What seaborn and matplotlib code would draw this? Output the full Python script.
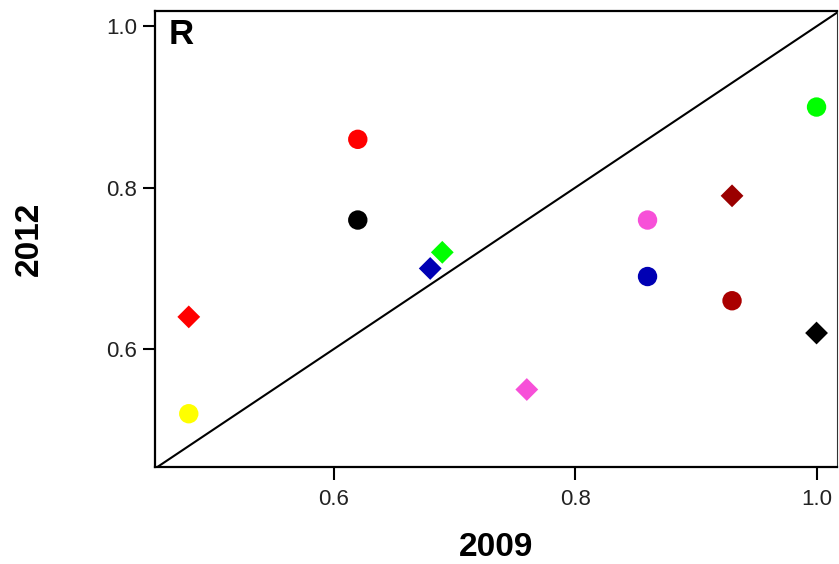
import pandas as pd
import matplotlib
matplotlib.use('Agg')
import matplotlib.pyplot as plt
import seaborn as sns

# values
circle_x = [0.48, 0.62, 0.62, 0.86, 0.86, 0.93, 1.00]
circle_y = [0.52, 0.86, 0.76, 0.76, 0.69, 0.66, 0.90]
circle_col = ['#ffff00', '#ff0000', '#000000', '#f750d8', '#0000b4', '#aa0000', '#00ff00']

diamond_x = [0.48, 0.68, 0.69, 0.76, 0.93, 1.00]
diamond_y = [0.64, 0.70, 0.72, 0.55, 0.79, 0.62]
diamond_col = ['#ff0000', '#0000b4', '#00ff00', '#f750d8', '#9a0000', '#000000']

ticks = [0.6, 0.8, 1.0]
tick_labels = ['0.6', '0.8', '1.0']

sns.set_style('white')
plt.rcParams['font.family'] = ['Liberation Sans', 'DejaVu Sans']
plt.rcParams['text.color'] = 'black'
plt.rcParams['axes.labelcolor'] = 'black'
plt.rcParams['xtick.color'] = 'black'
plt.rcParams['ytick.color'] = 'black'

df_c = pd.DataFrame({'x': circle_x, 'y': circle_y, 'c': circle_col})
df_d = pd.DataFrame({'x': diamond_x, 'y': diamond_y, 'c': diamond_col})

fig = plt.figure(figsize=(8.39, 5.64), dpi=100)
ax = fig.add_axes([0.1847, 0.172, 0.813, 0.8085])

# diagonal y = x
ax.plot([0.4, 1.1], [0.4, 1.1], color='black', lw=1.5, zorder=1)

sns.scatterplot(data=df_c, x='x', y='y', hue='c', palette={c: c for c in circle_col},
                marker='o', s=195, linewidth=0, legend=False, ax=ax, zorder=3)
sns.scatterplot(data=df_d, x='x', y='y', hue='c', palette={c: c for c in diamond_col},
                marker='D', s=135, linewidth=0, legend=False, ax=ax, zorder=3)

ax.set_xlim(0.452, 1.017)
ax.set_ylim(0.454, 1.019)
ax.set_xticks(ticks)
ax.set_xticklabels(tick_labels)
ax.set_yticks(ticks)
ax.set_yticklabels(tick_labels)
ax.tick_params(axis='both', direction='out', length=9, width=1.5, labelsize=16,
               labelcolor='#222222', bottom=True, left=True, top=False, right=False, pad=4)
ax.tick_params(axis='x', pad=7)

for side in ['left', 'bottom', 'top']:
    ax.spines[side].set_linewidth(1.6)
    ax.spines[side].set_color('black')
ax.spines['right'].set_linewidth(0.8)
ax.spines['right'].set_color('#333333')

ax.set_xlabel('2009', fontsize=24, fontweight='bold', labelpad=16)
ax.set_ylabel('2012', fontsize=24, fontweight='bold', labelpad=44)
ax.text(0.02, 0.985, 'R', transform=ax.transAxes, fontsize=25, fontweight='bold',
        ha='left', va='top')

fig.savefig('out.png', dpi=100)
